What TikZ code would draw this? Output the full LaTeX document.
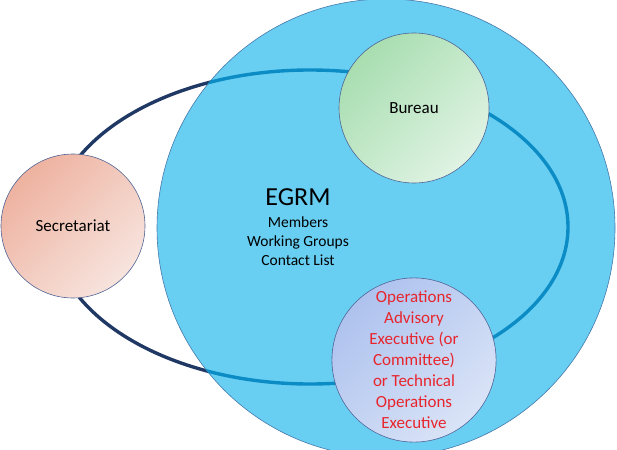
\documentclass[tikz,border=0pt]{standalone}
\usepackage{fontspec}
\setmainfont{Carlito}
\definecolor{bigfill}{RGB}{104,207,243}
\definecolor{bigedge}{RGB}{70,120,170}
\definecolor{navyline}{RGB}{32,56,100}
\definecolor{innerline}{RGB}{12,140,196}
\definecolor{secA}{RGB}{238,178,160}
\definecolor{secB}{RGB}{247,228,222}
\definecolor{burA}{RGB}{168,222,176}
\definecolor{burB}{RGB}{224,243,228}
\definecolor{opA}{RGB}{174,194,238}
\definecolor{opB}{RGB}{218,228,247}
\definecolor{edgec}{RGB}{80,100,150}
\definecolor{redtext}{RGB}{232,37,45}
\begin{document}
\begin{tikzpicture}[x=1pt,y=-1pt,
  smallc/.style={circle, draw=edgec, line width=0.6pt, minimum size=#1, inner sep=0pt},
  ringline/.style={line width=3.4pt}]
\useasboundingbox (0,0) rectangle (617,449);
\clip (0,0) rectangle (617,449);
% ellipse ring (outer part)
\draw[ringline, navyline] (310,227) ellipse [x radius=258pt, y radius=157pt];
% big circle
\node[circle, fill=bigfill, draw=bigedge, line width=0.6pt, minimum size=458pt, inner sep=0pt] (big) at (386,228) {};
% ellipse ring inside big circle
\begin{scope}
  \clip (386,228) circle (229pt);
  \draw[ringline, innerline] (310,227) ellipse [x radius=258pt, y radius=157pt];
\end{scope}
% texts in big circle
\node[font=\fontsize{26}{30}\selectfont] (egrm) at (298,197) {EGRM};
\node[align=center, font=\fontsize{15.5}{19}\selectfont] (egrmlist) at (298,241) {Members\\Working Groups\\Contact List};
% small circles
\node[smallc=144pt, top color=secA, bottom color=secB, shading angle=45, font=\fontsize{17}{20}\selectfont] (sec) at (73,226) {Secretariat};
\node[smallc=150pt, top color=burA, bottom color=burB, shading angle=45, font=\fontsize{17}{20}\selectfont] (bur) at (414,108) {Bureau};
\node[smallc=152pt, top color=opA, bottom color=opB, shading angle=45, text=redtext, align=center, font=\fontsize{17}{21}\selectfont] (ops) at (414,360) {Operations\\Advisory\\Executive (or\\Committee)\\or Technical\\Operations\\Executive};
\end{tikzpicture}
\end{document}
